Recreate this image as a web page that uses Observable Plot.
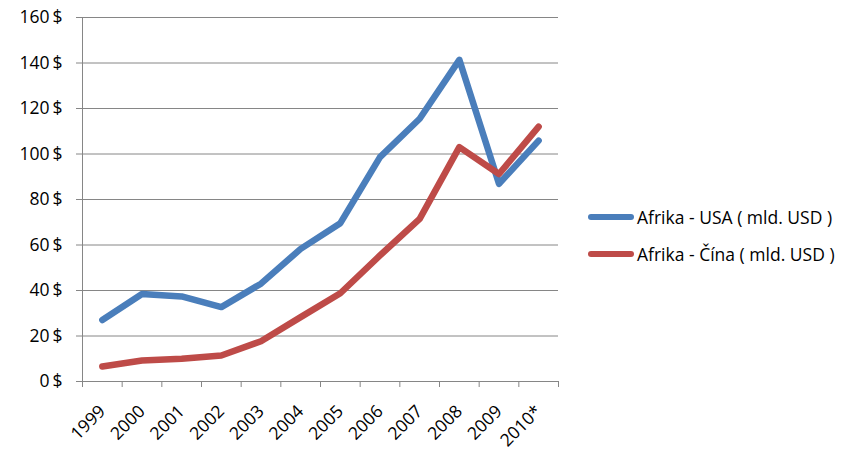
<!DOCTYPE html>
<html>
<head>
<meta charset="utf-8">
<script src="https://cdn.jsdelivr.net/npm/d3@7"></script>
<script src="https://cdn.jsdelivr.net/npm/@observablehq/plot@0.6"></script>
<style>
  html, body { margin: 0; padding: 0; background: #fff; }
  #wrap { position: relative; width: 855px; height: 470px; font-family: "Open Sans", sans-serif; }
  .legend { position: absolute; left: 588px; top: 198px; font-size: 17.5px; color: #000; }
  .row { display: flex; align-items: center; height: 37px; }
  .sw { width: 46px; height: 6px; border-radius: 3px; margin-right: 3px; }
</style>
</head>
<body>
<div id="wrap"></div>
<script>
const years = ["1999","2000","2001","2002","2003","2004","2005","2006","2007","2008","2009","2010*"];
const usa   = [27, 38.5, 37.4, 32.7, 43, 58.3, 69.6, 98.6, 115.5, 141.4, 86.9, 105.9];
const china = [6.6, 9.2, 10, 11.4, 17.7, 28.3, 38.8, 55.4, 71.5, 103, 91.2, 112];
const seriesNames = ["Afrika - USA ( mld. USD )", "Afrika - Čína ( mld. USD )"];
const colors = ["#4A7EBB", "#BE4B48"];
const yTicks = [0, 20, 40, 60, 80, 100, 120, 140, 160];

const idx = years.map((_, i) => i);
const bounds = d3.range(years.length + 1).map(i => i - 0.5);
const rows = [
  ...idx.map(i => ({i, v: usa[i], s: seriesNames[0]})),
  ...idx.map(i => ({i, v: china[i], s: seriesNames[1]}))
];

const grid = "#868686";
const chart = Plot.plot({
  width: 855,
  height: 470,
  marginLeft: 82,
  marginRight: 297,
  marginTop: 17,
  marginBottom: 89,
  style: {fontFamily: "'Open Sans', sans-serif", fontSize: "17px", color: "#000", background: "#fff"},
  x: {domain: [-0.5, years.length - 0.5], axis: null},
  y: {domain: [0, 160], axis: null},
  color: {domain: seriesNames, range: colors},
  marks: [
    Plot.ruleY(yTicks.slice(1), {stroke: grid, strokeWidth: 1, strokeOpacity: 1}),
    Plot.ruleY([0], {stroke: grid, strokeWidth: 1}),
    Plot.ruleX([-0.5], {stroke: grid, strokeWidth: 1}),
    Plot.ruleX(bounds, {x: d => d, y1: 0, y2: 0, insetBottom: -6, stroke: grid}),
    Plot.axisY(yTicks, {label: null, tickSize: 6, tickPadding: 14, tickFormat: d => d + "\u2009$", stroke: grid, fill: "#000", fontSize: 17.5}),
    Plot.axisX(idx, {label: null, tickSize: 0, tickPadding: 27, tickRotate: -45, tickFormat: i => years[i], fill: "#000", fontSize: 17.5}),
    Plot.line(rows, {x: "i", y: "v", z: "s", stroke: "s", strokeWidth: 6.5, strokeLinecap: "round", strokeLinejoin: "round"})
  ]
});
const wrap = document.getElementById("wrap");
wrap.appendChild(chart);

const legend = document.createElement("div");
legend.className = "legend";
seriesNames.forEach((name, k) => {
  const row = document.createElement("div");
  row.className = "row";
  const sw = document.createElement("div");
  sw.className = "sw";
  sw.style.background = colors[k];
  const t = document.createElement("span");
  t.textContent = name;
  row.appendChild(sw);
  row.appendChild(t);
  legend.appendChild(row);
});
wrap.appendChild(legend);
</script>
</body>
</html>
